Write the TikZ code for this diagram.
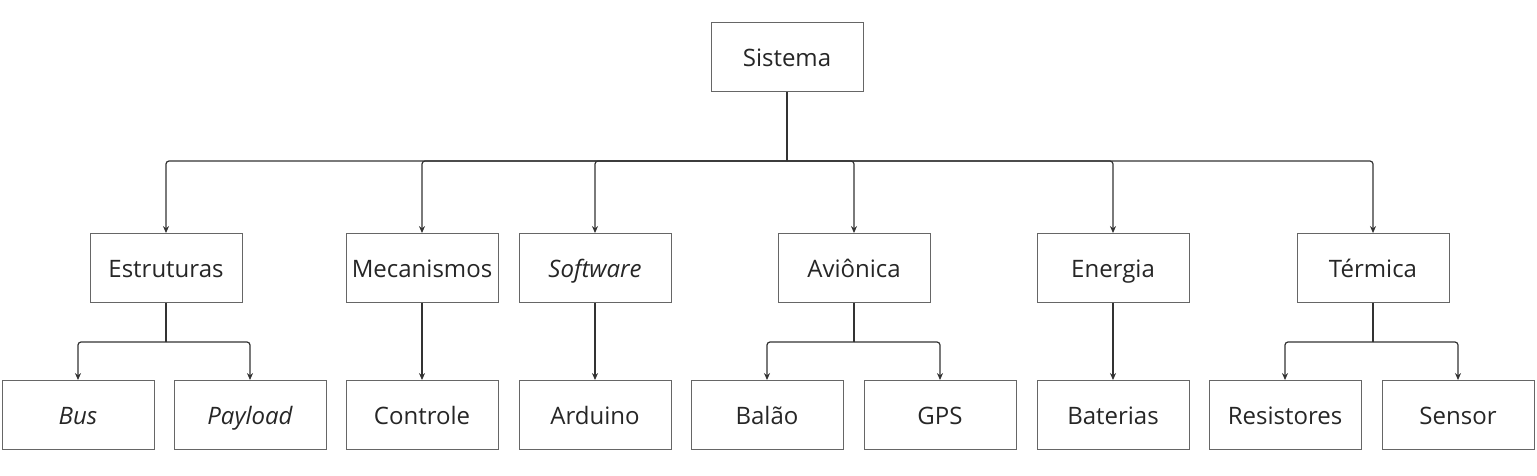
\documentclass[tikz,border=0pt]{standalone}
\usepackage{fontspec}
\setmainfont{Open Sans}
\usetikzlibrary{arrows.meta}
\begin{document}
\begin{tikzpicture}[x=1pt,y=-1pt,
  box/.style={draw=black!60,line width=0.9pt,minimum width=152pt,minimum height=69pt,inner sep=0pt,
    text height=19pt,text depth=0pt,
    font=\fontsize{24}{28}\selectfont,text=black!85},
  conn/.style={draw=black!80,line width=1.2pt,rounded corners=3pt},
  arr/.style={conn,-{Stealth[length=7pt,width=6pt]}}]
\useasboundingbox (0,0) rectangle (1537,475);
% level 1
\node[box] (sis) at (787,57) {Sistema};
% level 2
\node[box] (estr) at (166,268) {Estruturas};
\node[box] (mec) at (422,268) {Mecanismos};
\node[box] (soft) at (595,268) {\itshape Software};
\node[box] (avi) at (854,268) {Aviônica};
\node[box] (ene) at (1113,268) {Energia};
\node[box] (ter) at (1373,268) {Térmica};
% level 3
\node[box] (bus) at (78,415) {\itshape Bus};
\node[box] (pay) at (250,415) {\itshape Payload};
\node[box] (con) at (422,415) {Controle};
\node[box] (ard) at (595,415) {Arduino};
\node[box] (bal) at (767,415) {Balão};
\node[box] (gps) at (940,415) {GPS};
\node[box] (bat) at (1113,415) {Baterias};
\node[box] (res) at (1285,415) {Resistores};
\node[box] (sen) at (1458,415) {Sensor};
% junctions
\coordinate (j0) at (787,161);
\coordinate (j1) at (166,342);
\coordinate (j2) at (854,342);
\coordinate (j3) at (1373,342);
% connectors
\draw[conn] (sis.south) -- (j0);
\foreach \n in {estr,mec,soft,avi,ene,ter}{\draw[arr] (j0) -| (\n.north);}
\draw[conn] (estr.south) -- (j1);
\draw[arr] (j1) -| (bus.north);
\draw[arr] (j1) -| (pay.north);
\draw[arr] (mec.south) -- (con.north);
\draw[arr] (soft.south) -- (ard.north);
\draw[conn] (avi.south) -- (j2);
\draw[arr] (j2) -| (bal.north);
\draw[arr] (j2) -| (gps.north);
\draw[arr] (ene.south) -- (bat.north);
\draw[conn] (ter.south) -- (j3);
\draw[arr] (j3) -| (res.north);
\draw[arr] (j3) -| (sen.north);
\end{tikzpicture}
\end{document}
